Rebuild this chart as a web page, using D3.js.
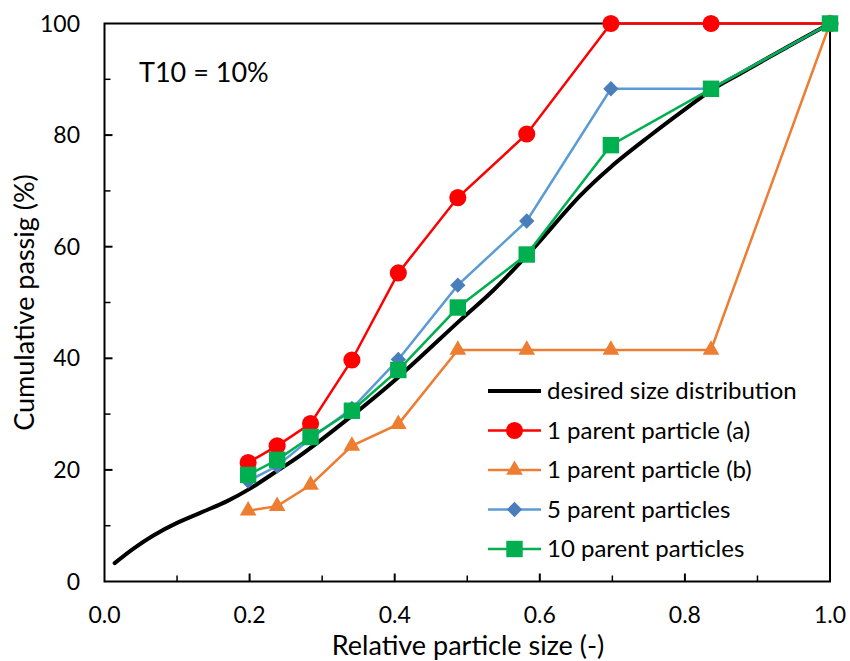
<!DOCTYPE html>
<html>
<head>
<meta charset="utf-8">
<script src="https://cdn.jsdelivr.net/npm/d3@7"></script>
<style>
  html, body { margin: 0; padding: 0; background: #fff; }
  svg { display: block; font-family: Lato, "Open Sans", sans-serif; }
</style>
</head>
<body>
<svg id="chart" width="850" height="661"></svg>
<script>
// Relative particle sizes of the sieve classes
const sizes = [0.198, 0.238, 0.284, 0.341, 0.405, 0.487, 0.582, 0.698, 0.836, 1.0];

// Cumulative passing (%) per sieve class
const parentA = [21.3, 24.3, 28.3, 39.7, 55.3, 68.8, 80.2, 100, 100, 100];
const parentB = [12.7, 13.5, 17.3, 24.3, 28.2, 41.5, 41.5, 41.5, 41.5, 100];
const parents5 = [18.0, 20.7, 25.6, 31.0, 39.8, 53.1, 64.6, 88.3, 88.3, 100];
const parents10 = [19.1, 21.8, 25.9, 30.6, 37.9, 49.1, 58.6, 78.2, 88.3, 100];

// Desired (target) size distribution curve
const desiredX = [0.014, 0.04, 0.068, 0.10, 0.132, 0.169, 0.20, 0.233, 0.27, 0.339, 0.403, 0.49, 0.536, 0.587, 0.656, 0.698, 0.75, 0.80, 0.836, 0.876, 0.94, 1.0];
const desiredY = [3.3, 5.9, 8.3, 10.5, 12.3, 14.4, 16.6, 19.4, 22.6, 29.5, 36.4, 46.8, 52.2, 59.1, 69.2, 74.3, 79.7, 84.6, 88.0, 91.0, 95.7, 100];

const xTicks = [0, 0.2, 0.4, 0.6, 0.8, 1.0];
const yTicks = [0, 20, 40, 60, 80, 100];

const svg = d3.select("#chart");
const x = d3.scaleLinear().domain([0, 1]).range([104.5, 830]);
const y = d3.scaleLinear().domain([0, 100]).range([581.5, 23.5]);

const plot = svg.append("g");

// Frame
plot.append("rect")
  .attr("x", x(0)).attr("y", y(100))
  .attr("width", x(1) - x(0)).attr("height", y(0) - y(100))
  .attr("fill", "none").attr("stroke", "#000").attr("stroke-width", 2);

// Inward ticks: major and minor
const xMinor = d3.range(1, 10, 2).map(d => d / 10);
const yMinor = d3.range(10, 100, 20);
plot.selectAll(".xt").data(xTicks.slice(1, -1)).join("line")
  .attr("x1", d => x(d)).attr("x2", d => x(d))
  .attr("y1", y(0)).attr("y2", y(0) - 8)
  .attr("stroke", "#000").attr("stroke-width", 2);
plot.selectAll(".xm").data(xMinor).join("line")
  .attr("x1", d => x(d)).attr("x2", d => x(d))
  .attr("y1", y(0)).attr("y2", y(0) - 6)
  .attr("stroke", "#000").attr("stroke-width", 1.5);
plot.selectAll(".yt").data(yTicks.slice(1, -1)).join("line")
  .attr("x1", x(0)).attr("x2", x(0) + 8)
  .attr("y1", d => y(d)).attr("y2", d => y(d))
  .attr("stroke", "#000").attr("stroke-width", 2);
plot.selectAll(".ym").data(yMinor).join("line")
  .attr("x1", x(0)).attr("x2", x(0) + 6)
  .attr("y1", d => y(d)).attr("y2", d => y(d))
  .attr("stroke", "#000").attr("stroke-width", 1.5);

// Tick labels
svg.selectAll(".xl").data(xTicks).join("text")
  .attr("x", d => x(d)).attr("y", 623)
  .attr("text-anchor", "middle").attr("font-size", 23).attr("fill", "#000")
  .text(d => d.toFixed(1));
svg.selectAll(".yl").data(yTicks).join("text")
  .attr("x", 80).attr("y", d => y(d) + 8)
  .attr("text-anchor", "end").attr("font-size", 23).attr("fill", "#000")
  .text(d => d);

// Axis titles
svg.append("text")
  .attr("x", 468).attr("y", 655)
  .attr("text-anchor", "middle").attr("font-size", 27)
  .text("Relative particle size (-)");
svg.append("text")
  .attr("transform", `translate(34, ${(y(0) + y(100)) / 2}) rotate(-90)`)
  .attr("text-anchor", "middle").attr("font-size", 27)
  .text("Cumulative passig (%)");

// Annotation
svg.append("text")
  .attr("x", 139).attr("y", 82)
  .attr("font-size", 27)
  .text("T10 = 10%");

const line = d3.line().x(d => x(d[0])).y(d => y(d[1]));
const curve = d3.line().x(d => x(d[0])).y(d => y(d[1])).curve(d3.curveCatmullRom.alpha(0.5));

// Desired distribution
plot.append("path")
  .datum(d3.zip(desiredX, desiredY))
  .attr("d", curve)
  .attr("fill", "none").attr("stroke", "#000").attr("stroke-width", 4)
  .attr("stroke-linecap", "round");

const series = [
  { name: "1 parent particle (a)", values: parentA, color: "#FF0000", fill: "#FF0000", symbol: d3.symbolCircle, size: 230 },
  { name: "1 parent particle (b)", values: parentB, color: "#ED7D31", fill: "#ED7D31", symbol: d3.symbolTriangle, size: 120 },
  { name: "5 parent particles", values: parents5, color: "#5B9BD5", fill: "#4A7EBB", symbol: d3.symbolDiamond2, size: 150 },
  { name: "10 parent particles", values: parents10, color: "#00B050", fill: "#00B050", symbol: d3.symbolSquare, size: 270 }
];

series.forEach(s => {
  const pts = d3.zip(sizes, s.values);
  plot.append("path").datum(pts).attr("d", line)
    .attr("fill", "none").attr("stroke", s.color).attr("stroke-width", 2.5);
  plot.selectAll(null).data(pts).join("path")
    .attr("transform", d => `translate(${x(d[0])},${y(d[1])})`)
    .attr("d", d3.symbol().type(s.symbol).size(s.size))
    .attr("fill", s.fill);
});

// Legend
const legend = svg.append("g").attr("transform", "translate(488, 391)");
const rowH = 39.5;
legend.append("line").attr("x1", 0).attr("x2", 53).attr("y1", 0).attr("y2", 0)
  .attr("stroke", "#000").attr("stroke-width", 4);
legend.append("text").attr("x", 59).attr("y", 8).attr("font-size", 24)
  .text("desired size distribution");
series.forEach((s, i) => {
  const g = legend.append("g").attr("transform", `translate(0, ${(i + 1) * rowH})`);
  g.append("line").attr("x1", 0).attr("x2", 53).attr("y1", 0).attr("y2", 0)
    .attr("stroke", s.color).attr("stroke-width", 2.5);
  g.append("path").attr("transform", "translate(26.5,0)")
    .attr("d", d3.symbol().type(s.symbol).size(s.size)).attr("fill", s.fill);
  g.append("text").attr("x", 59).attr("y", 8).attr("font-size", 24).text(s.name);
});
</script>
</body>
</html>
